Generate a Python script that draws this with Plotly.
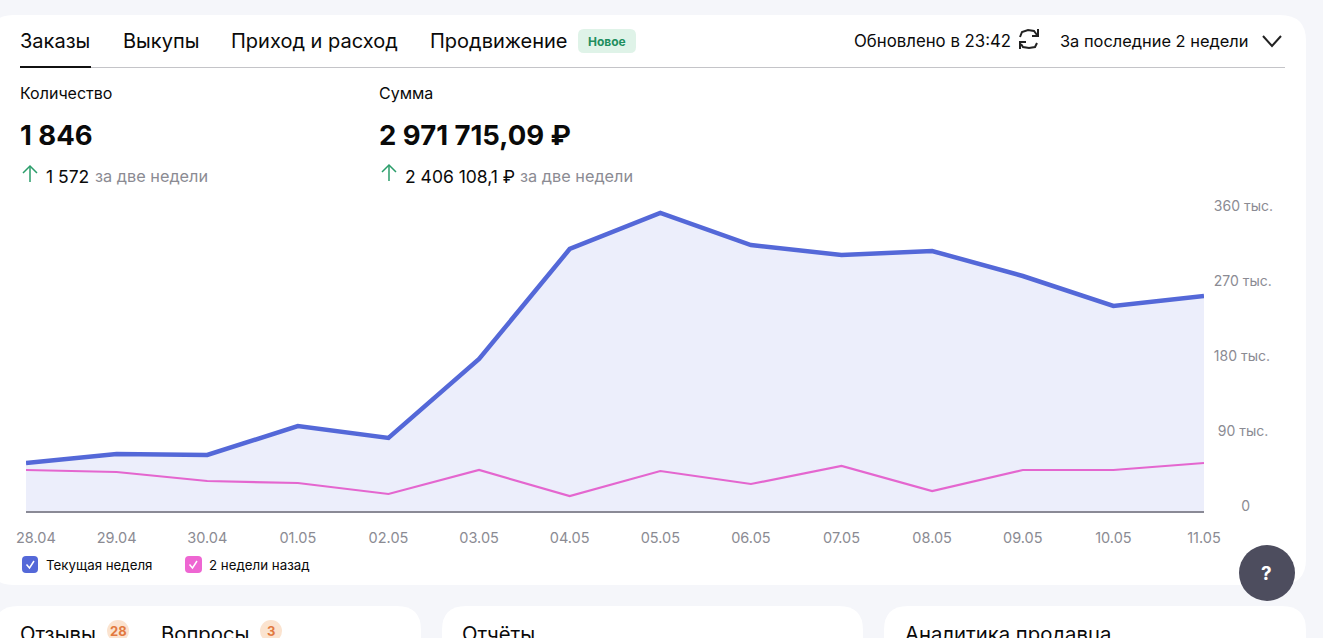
import plotly.graph_objs as go

dates = ['28.04', '29.04', '30.04', '01.05', '02.05', '03.05', '04.05',
         '05.05', '06.05', '07.05', '08.05', '09.05', '10.05', '11.05']
current_week = [57600, 68400, 67200, 102000, 87600, 182400, 314400,
                357600, 319200, 307200, 312000, 282000, 246000, 258000]
two_weeks_ago = [49200, 46800, 36000, 33600, 20400, 49200, 18000,
                 48000, 32400, 54000, 24000, 49200, 49200, 57600]
y_ticks = [0, 90000, 180000, 270000, 360000]
y_labels = ['0', '90 тыс.', '180 тыс.', '270 тыс.', '360 тыс.']
tabs = [('Заказы', 20), ('Выкупы', 123), ('Приход и расход', 231), ('Продвижение', 430)]

FONT = 'Inter'
W, H = 1323, 638
L, R, T, B = 26, 1204, 190, 511
BLUE = '#5468d8'
PINK = '#e466cf'
GREY = '#8b8b93'


# reference is measured in screen pixels, layout wants paper fractions
def px(x):
    return (x - L) / (R - L)


def py(y):
    return (B - y) / (B - T)


def text(s, x, y, size=14, color='#0a0a0a', anchor='left', bold=False):
    # annotations carry about 2px of padding on the left
    if anchor == 'left':
        x = x - 2
    return dict(text='<b>' + s + '</b>' if bold else s, x=px(x), y=py(y),
                xref='paper', yref='paper', xanchor=anchor, yanchor='middle',
                showarrow=False, font=dict(family=FONT, size=size, color=color))


def round_rect(x0, y0, x1, y1, r, fill):
    p = 'M %f,%f ' % (px(x0 + r), py(y0))
    p += 'L %f,%f Q %f,%f %f,%f ' % (px(x1 - r), py(y0), px(x1), py(y0), px(x1), py(y0 + r))
    p += 'L %f,%f Q %f,%f %f,%f ' % (px(x1), py(y1 - r), px(x1), py(y1), px(x1 - r), py(y1))
    p += 'L %f,%f Q %f,%f %f,%f ' % (px(x0 + r), py(y1), px(x0), py(y1), px(x0), py(y1 - r))
    p += 'L %f,%f Q %f,%f %f,%f Z' % (px(x0), py(y0 + r), px(x0), py(y0), px(x0 + r), py(y0))
    return dict(type='path', path=p, xref='paper', yref='paper', fillcolor=fill,
                line=dict(width=0), layer='below')


def stroke(points, color, width=2):
    p = 'M ' + ' L '.join('%f,%f' % (px(a), py(b)) for a, b in points)
    return dict(type='path', path=p, xref='paper', yref='paper',
                line=dict(color=color, width=width), layer='above')


def circle(cx, cy, r, fill):
    return dict(type='circle', xref='paper', yref='paper', x0=px(cx - r), x1=px(cx + r),
                y0=py(cy + r), y1=py(cy - r), fillcolor=fill, line=dict(width=0), layer='above')


shapes = [
    round_rect(-12, 15, 1306, 585, 26, '#ffffff'),
    round_rect(-6, 606, 421, 700, 24, '#ffffff'),
    round_rect(442, 606, 863, 700, 24, '#ffffff'),
    round_rect(884, 606, 1306, 700, 24, '#ffffff'),
    stroke([(20, 67.5), (1285, 67.5)], '#c4c4c8', 1),
    stroke([(20, 67), (91, 67)], '#111111', 2),
    round_rect(578, 29, 636, 53, 6, '#dff3e8'),
    # chevron
    stroke([(1263, 36), (1272, 46), (1281, 36)], '#222222', 2),
    # refresh icon
    stroke([(1020, 37), (1022, 32), (1028, 30), (1034, 31), (1037, 35)], '#222222', 2),
    stroke([(1038, 29), (1038, 36), (1032, 36)], '#222222', 2),
    stroke([(1037, 43), (1035, 47), (1029, 48), (1023, 47), (1021, 44)], '#222222', 2),
    stroke([(1020, 49), (1020, 42), (1026, 42)], '#222222', 2),
    # up arrows
    stroke([(30, 182), (30, 166)], '#2a9d6a', 1.5),
    stroke([(23, 173), (30, 166), (37, 173)], '#2a9d6a', 1.5),
    stroke([(389, 181), (389, 165)], '#2a9d6a', 1.5),
    stroke([(382, 172), (389, 165), (396, 172)], '#2a9d6a', 1.5),
    # legend checkboxes
    round_rect(22, 556, 38, 573, 4, BLUE),
    stroke([(26.5, 564.5), (29.5, 568), (34, 561)], '#ffffff', 1.5),
    round_rect(185, 556, 202, 573, 4, '#ee66d2'),
    stroke([(189.5, 564.5), (192.5, 568), (197, 561)], '#ffffff', 1.5),
    # help button and badges
    circle(1267, 573, 28, '#4d4d5e'),
    circle(118, 631, 11, '#fbe3cf'),
    circle(271, 631, 11, '#fbe3cf'),
]

annotations = [text(name, x, 41, size=20) for name, x in tabs]
annotations += [
    text('Новое', 607, 41, size=12, color='#1f8f5f', anchor='center', bold=True),
    text('Обновлено в 23:42', 854, 41, size=16.8),
    text('За последние 2 недели', 1060, 41, size=16.4),
    text('Количество', 20, 93, size=16),
    text('Сумма', 379, 93, size=16),
    text('1 846', 20, 135, size=27.5, bold=True),
    text('2 971 715,09 ₽', 379, 135, size=27.5, bold=True),
    text('1 572', 46, 176, size=17.5),
    text('за две недели', 95, 176, size=16.3, color=GREY),
    text('2 406 108,1 ₽', 405, 176, size=17.5),
    text('за две недели', 520, 176, size=16.3, color=GREY),
    text('Текущая неделя', 46, 565, size=13.3),
    text('2 недели назад', 209, 565, size=13.3),
    text('?', 1267, 573, size=19, color='#ffffff', anchor='center', bold=True),
    text('Отзывы', 20, 633, size=20.3),
    text('28', 118, 631, size=13, color='#e2793f', anchor='center', bold=True),
    text('Вопросы', 161, 633, size=20.3),
    text('3', 271, 631, size=13, color='#e2793f', anchor='center', bold=True),
    text('Отчёты', 462, 633, size=20.3),
    text('Аналитика продавца', 905, 633, size=20.3),
    # first date label sits inside the card, right of its point
    text(dates[0], 36, 537, size=14.5, color=GREY, anchor='center'),
]

y_text = ['\u00a0' * n + s for n, s in zip([7, 1, 0, 0, 0], y_labels)]

graph1 = go.Scatter(x=dates, y=current_week, name='Текущая неделя', mode='lines',
                    line=dict(color=BLUE, width=4.5), fill='tozeroy', fillcolor='#eceefb',
                    hoverinfo='skip')
graph2 = go.Scatter(x=dates, y=two_weeks_ago, name='2 недели назад', mode='lines',
                    line=dict(color=PINK, width=2.2), hoverinfo='skip')

layout = go.Layout(
    width=W, height=H, autosize=False,
    margin=dict(l=L, r=W - R, t=T, b=H - B, pad=0),
    paper_bgcolor='#f5f6fa', plot_bgcolor='rgba(0,0,0,0)',
    showlegend=False,
    font=dict(family=FONT, size=13, color=GREY),
    shapes=shapes,
    annotations=annotations,
    xaxis=dict(type='category', categoryorder='array', categoryarray=dates,
               range=[0, 13], tickmode='array', tickvals=dates[1:], ticktext=dates[1:],
               tickangle=0, automargin=False, showgrid=False, zeroline=False, showline=True,
               linecolor='#8a8a96', linewidth=1.5, ticks='outside', ticklen=13,
               tickcolor='rgba(0,0,0,0)', tickfont=dict(size=14.5, color=GREY)),
    yaxis=dict(range=[0, (B - T) * 1200], side='right', tickmode='array', tickvals=y_ticks,
               ticktext=y_text, automargin=False, showgrid=False, zeroline=False, showline=False,
               ticks='outside', ticklen=6, tickcolor='rgba(0,0,0,0)',
               ticklabelshift=-5, tickfont=dict(size=14, color=GREY)),
)

fig = go.Figure(data=[graph1, graph2], layout=layout)
fig.write_html('out.html', config=dict(displayModeBar=False),
               post_script="document.body.style.margin='0';document.body.style.overflow='hidden';")
